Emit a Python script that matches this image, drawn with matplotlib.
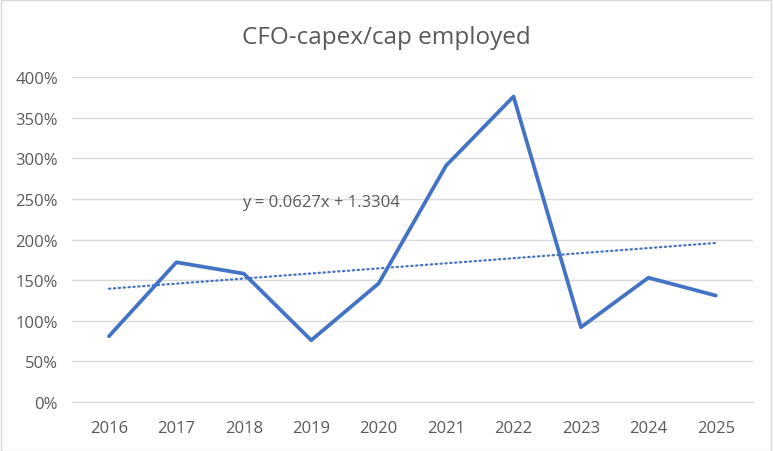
import numpy as np
import matplotlib.pyplot as plt
from matplotlib.ticker import PercentFormatter
from matplotlib.patches import Rectangle

years = ["2016", "2017", "2018", "2019", "2020", "2021", "2022", "2023", "2024", "2025"]
ratio = [0.81, 1.72, 1.58, 0.76, 1.46, 2.91, 3.76, 0.92, 1.53, 1.31]
trend_label = "y = 0.0627x + 1.3304"

plt.rcParams['font.family'] = ['Open Sans', 'DejaVu Sans']

fig = plt.figure(figsize=(7.73, 4.52), dpi=100)
ax = fig.add_axes([0.093, 0.1084, 0.881, 0.719])

x = np.arange(len(years))
ax.plot(x, ratio, color="#4472C4", linewidth=2.7, solid_capstyle="round", solid_joinstyle="round", zorder=3)

# linear trendline (excel style, x = 1..n)
k, b = np.polyfit(x + 1, ratio, 1)
ax.plot(x, k * (x + 1) + b, color="#4472C4", linewidth=1.6, linestyle=(0, (0.6, 1.6)), dash_capstyle="round", zorder=2)
ax.text(1.98, 2.46, trend_label, fontsize=12, color="#595959", va="center", ha="left")

ax.set_xlim(-0.55, len(years) - 0.45)
ax.set_ylim(0, 4)
ax.set_yticks(np.arange(0, 4.01, 0.5))
ax.yaxis.set_major_formatter(PercentFormatter(1.0, decimals=0))
ax.set_xticks(x)
ax.set_xticklabels(years)
ax.grid(axis="y", color="#D9D9D9", linewidth=1)
ax.set_axisbelow(True)
for s in ["top", "right", "left"]:
    ax.spines[s].set_visible(False)
ax.spines["bottom"].set_color("#D9D9D9")
ax.tick_params(axis="both", length=0, labelsize=12, labelcolor="#595959", pad=10)
ax.tick_params(axis="x", pad=13)

fig.text(0.5, 0.915, "CFO-capex/cap employed", ha="center", va="center", fontsize=17.5, color="#595959")
fig.patches.append(Rectangle((0.001, 0.001), 0.997, 0.997, transform=fig.transFigure, fill=False, edgecolor="#D9D9D9", linewidth=1))

fig.savefig("out.png", dpi=100)
